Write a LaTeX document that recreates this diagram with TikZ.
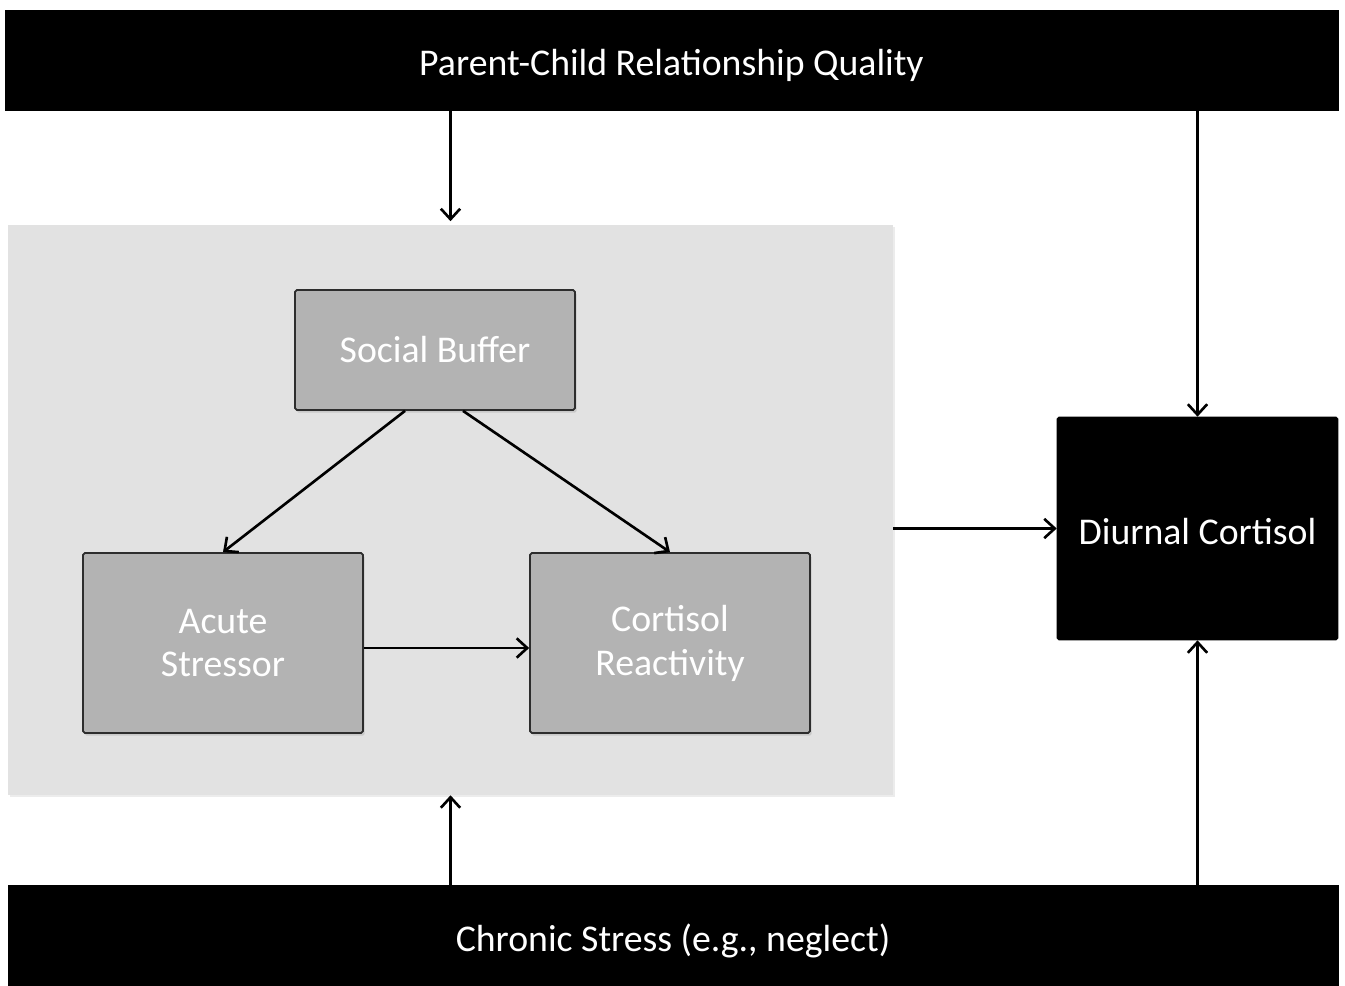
\documentclass[tikz,border=0pt]{standalone}
\usepackage{fontspec}
\setmainfont{Carlito}
\usepackage{xcolor}
\usepackage{tikz}
\usetikzlibrary{arrows.meta, positioning, shadows}
\definecolor{PanelGrey}{RGB}{226, 226, 226}
\definecolor{BoxGrey}{RGB}{179, 179, 179}
\definecolor{BoxEdge}{RGB}{45, 45, 45}

\begin{document}
\begin{tikzpicture}[
  x=0.02cm, y=-0.02cm,
  bar/.style={fill=black, draw=black, inner sep=0pt, text height=18pt, text depth=0pt,
    minimum height=2cm, font=\fontsize{21.5}{25}\selectfont\color{white}},
  inbox/.style={fill=BoxGrey, draw=BoxEdge, line width=1pt, rounded corners=1pt,
    minimum width=5.6cm, align=center,
    drop shadow={opacity=0.25, shadow xshift=1pt, shadow yshift=-1.5pt},
    font=\fontsize{21.5}{25}\selectfont\color{white}},
  arr/.style={-{Straight Barb[length=6pt, width=11pt, line width=1.5pt]}, black, line width=1.5pt}
]
\useasboundingbox (0,0) rectangle (1345,986);
\fill[white] (0,0) rectangle (1345,986);

\node[bar, minimum width=26.66cm] (parent) at (671.5,60) {Parent-Child Relationship Quality};
\node[bar, minimum width=26.6cm, minimum height=2.02cm] (chronic) at (673,935.5) {Chronic Stress (e.g., neglect)};

\node[fill=PanelGrey, inner sep=0pt, minimum width=17.7cm, minimum height=11.4cm,
      drop shadow={opacity=0.15, shadow xshift=1pt, shadow yshift=-1pt}] (panel) at (450.5,510) {};

\node[inbox, minimum height=2.4cm] (buffer) at (435,350) {Social Buffer};
\node[inbox, minimum height=3.6cm] (acute) at (223,643) {Acute\\Stressor};
\node[inbox, minimum height=3.6cm] (reactivity) at (670,643) {Cortisol\\Reactivity};

\node[bar, minimum width=5.62cm, minimum height=4.46cm, rounded corners=1pt] (diurnal) at (1197.5,528.5) {Diurnal Cortisol};

\draw[arr] (parent.south -| panel.north) -- ([yshift=2pt]panel.north);
\draw[arr] (parent.south -| diurnal.north) -- (diurnal.north);
\draw[arr] (panel.east |- diurnal.west) -- (diurnal.west);
\draw[arr] (chronic.north -| panel.south) -- (panel.south);
\draw[arr] (chronic.north -| diurnal.south) -- (diurnal.south);
\draw[arr] ([xshift=-0.6cm]buffer.south) -- (acute.north);
\draw[arr] ([xshift=0.56cm]buffer.south) -- (reactivity.north);
\draw[arr] ([yshift=-0.1cm]acute.east) -- ([yshift=-0.1cm]reactivity.west);
\end{tikzpicture}
\end{document}
